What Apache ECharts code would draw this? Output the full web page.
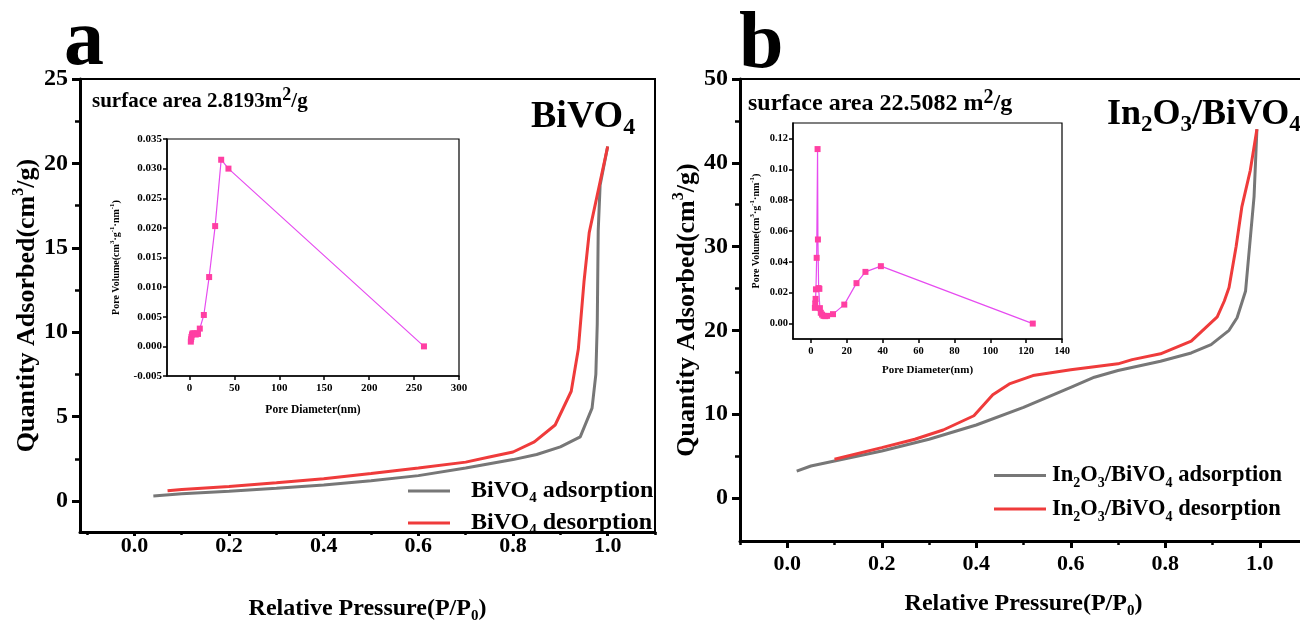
<!DOCTYPE html>
<html><head><meta charset="utf-8">
<script src="https://cdn.jsdelivr.net/npm/echarts@6/dist/echarts.min.js"></script>
<style>html,body{margin:0;padding:0;background:#fff}#c{width:1300px;height:623px}</style>
</head><body><div id="c"></div>
<script>
const F = 'Liberation Serif';
// ---- Panel a: BiVO4 N2 isotherm (P/P0, cm3/g)
const bivoAds = [[0.04,0.3],[0.1,0.42],[0.2,0.58],[0.3,0.75],[0.4,0.95],[0.5,1.2],[0.6,1.5],[0.7,1.95],[0.75,2.2],[0.8,2.45],[0.85,2.75],[0.9,3.2],[0.942,3.8],[0.967,5.5],[0.975,7.5],[0.978,10.5],[0.98,16],[0.984,18.7],[1.0,21]];
const bivoDes = [[0.07,0.6],[0.1,0.68],[0.2,0.85],[0.3,1.08],[0.4,1.32],[0.5,1.62],[0.6,1.95],[0.7,2.3],[0.75,2.6],[0.8,2.9],[0.845,3.5],[0.889,4.5],[0.923,6.5],[0.938,9],[0.95,13],[0.961,15.9],[1.0,21]];
// ---- Panel a inset: pore size distribution (nm, cm3 g-1 nm-1)
const bivoPore = [[1.5,0.0008],[1.8,0.0012],[2.2,0.0016],[2.8,0.0020],[3.5,0.0022],[4.5,0.0021],[5.5,0.0022],[7,0.0020],[8.5,0.0022],[9.5,0.0021],[11.5,0.0030],[16,0.0053],[21.9,0.0117],[28.6,0.0203],[35.3,0.0315],[43.4,0.0300],[261,0.0]];
// ---- Panel b: In2O3/BiVO4 isotherm
const inAds = [[0.02,3.2],[0.05,3.8],[0.1,4.4],[0.2,5.6],[0.3,7.0],[0.4,8.7],[0.5,10.8],[0.6,13.2],[0.65,14.4],[0.7,15.2],[0.79,16.3],[0.855,17.3],[0.897,18.3],[0.935,20],[0.952,21.5],[0.97,24.7],[0.988,36],[0.994,44]];
const inDes = [[0.1,4.6],[0.2,6.0],[0.27,7.0],[0.33,8.1],[0.395,9.8],[0.435,12.3],[0.47,13.6],[0.52,14.6],[0.6,15.3],[0.7,16],[0.73,16.5],[0.79,17.2],[0.855,18.7],[0.91,21.6],[0.925,23.5],[0.935,25.1],[0.95,30],[0.962,34.7],[0.98,39.1],[0.994,44]];
// ---- Panel b inset
const inPore = [[2.2,0.0102],[2.4,0.013],[2.6,0.016],[2.8,0.0222],[3.2,0.0426],[3.7,0.1131],[3.9,0.0545],[4.3,0.023],[4.7,0.0225],[5.0,0.010],[5.5,0.007],[6.2,0.0058],[7,0.005],[8,0.0048],[9,0.005],[12.3,0.0061],[18.6,0.0123],[25.4,0.0262],[30.4,0.0335],[39,0.0372],[123.7,0.0]];
// ---- tick labels
const mainXTicks = [0,0.2,0.4,0.6,0.8,1.0];
const mainXMinor = [-0.1,0.1,0.3,0.5,0.7,0.9,1.1];
const aYTicks = [0,5,10,15,20,25];
const aYMinor = [2.5,7.5,12.5,17.5,22.5];
const bYTicks = [0,10,20,30,40,50];
const bYMinor = [5,15,25,35,45];
const aInsetXTicks = [0,50,100,150,200,250,300];
const bInsetXTicks = [0,20,40,60,80,100,120,140];
const bInsetYTicks = [0,0.02,0.04,0.06,0.08,0.10,0.12];
const names = {aAds:'BiVO4 adsorption', aDes:'BiVO4 desorption', bAds:'In2O3/BiVO4 adsorption', bDes:'In2O3/BiVO4 desorption'};

const GRAY = '#777777', RED = '#ef3b3b', MAG = '#e64bf0', PINK = '#ff3fa3';
const blk = '#000';
const RA = {xmin:-0.115, xmax:1.1, ymin:-1.84, ymax:25};
const RB = {xmin:-0.1, xmax:1.1, ymin:-5.15, ymax:50};
const G = [
  {left:80, top:79, width:575, height:453},
  {left:167, top:139, width:292, height:237},
  {left:740, top:79, width:567, height:462},
  {left:793, top:123, width:269, height:216}
];
function mainX(grid, r, margin, tickLen, nameGap){
  return {gridIndex:grid, type:'value', min:r.xmin, max:r.xmax,
    axisLine:{onZero:false, lineStyle:{color:blk, width:3}},
    axisTick:{customValues:mainXTicks, length:tickLen, lineStyle:{color:blk, width:3}},
    axisLabel:{customValues:mainXTicks, formatter:v=>v.toFixed(1), color:blk, fontFamily:F, fontWeight:'bold', fontSize:22, margin:margin},
    splitLine:{show:false},
    name:'{a|Relative Pressure(P/P}{s|0}{a|)}', nameLocation:'middle', nameGap:nameGap,
    nameTextStyle:{rich:{a:{fontFamily:F, fontWeight:'bold', fontSize:24, color:blk, lineHeight:30}, s:{fontFamily:F, fontWeight:'bold', fontSize:15, color:blk, verticalAlign:'bottom', lineHeight:30}}}
  };
}
function minorX(grid, r, ticks, len){
  return {gridIndex:grid, type:'value', min:r.xmin, max:r.xmax,
    axisLine:{show:false, onZero:false}, axisLabel:{show:false}, splitLine:{show:false},
    axisTick:{customValues:ticks, length:len, lineStyle:{color:blk, width:2.5}}};
}
function minorY(grid, r, ticks){
  return {gridIndex:grid, type:'value', min:r.ymin, max:r.ymax,
    axisLine:{show:false, onZero:false}, axisLabel:{show:false}, splitLine:{show:false},
    axisTick:{customValues:ticks, length:5, lineStyle:{color:blk, width:2.5}}};
}
function mainY(grid, r, ticks, nameGap){
  return {gridIndex:grid, type:'value', min:r.ymin, max:r.ymax,
    axisLine:{onZero:false, lineStyle:{color:blk, width:3}},
    axisTick:{customValues:ticks, length:8, lineStyle:{color:blk, width:3}},
    axisLabel:{customValues:ticks, color:blk, fontFamily:F, fontWeight:'bold', fontSize:24, margin:12},
    splitLine:{show:false},
    name:'{a|Quantity Adsorbed(cm}{s|3}{a|/g)}', nameLocation:'middle', nameGap:nameGap,
    nameTextStyle:{rich:{a:{fontFamily:F, fontWeight:'bold', fontSize:26, color:blk, lineHeight:32}, s:{fontFamily:F, fontWeight:'bold', fontSize:16, color:blk, verticalAlign:'top', lineHeight:32}}}
  };
}
function insetX(grid, min, max, ticks, fs, nameGap){
  return {gridIndex:grid, type:'value', min:min, max:max,
    axisLine:{onZero:false, lineStyle:{color:blk, width:1.5}},
    axisTick:{customValues:ticks, length:4, lineStyle:{color:blk, width:1.5}},
    axisLabel:{customValues:ticks, color:blk, fontFamily:F, fontWeight:'bold', fontSize:fs, margin:7},
    splitLine:{show:false},
    name:'Pore Diameter(nm)', nameLocation:'middle', nameGap:nameGap,
    nameTextStyle:{fontFamily:F, fontWeight:'bold', fontSize:fs+0.5, color:blk}
  };
}
function insetY(grid, min, max, ticks, interval, fmt, fs, nameGap){
  const o = {gridIndex:grid, type:'value', min:min, max:max,
    axisLine:{onZero:false, lineStyle:{color:blk, width:1.5}},
    axisTick:{length:4, lineStyle:{color:blk, width:1.5}},
    axisLabel:{formatter:fmt, color:blk, fontFamily:F, fontWeight:'bold', fontSize:fs, margin:5},
    splitLine:{show:false},
    name:'{a|Pore Volume(cm}{s|3}{a|·g}{s|-1}{a|·nm}{s|-1}{a|)}', nameLocation:'middle', nameGap:nameGap,
    nameTextStyle:{rich:{a:{fontFamily:F, fontWeight:'bold', fontSize:10, color:blk, lineHeight:14}, s:{fontFamily:F, fontWeight:'bold', fontSize:7, color:blk, verticalAlign:'top', lineHeight:14}}}
  };
  if (ticks) { o.axisTick.customValues = ticks; o.axisLabel.customValues = ticks; }
  else { o.interval = interval; }
  return o;
}
function legRich(fs, gap){
  return {g:{width:gap}, a:{fontFamily:F, fontWeight:'bold', fontSize:fs, color:blk, lineHeight:30}, s:{fontFamily:F, fontWeight:'bold', fontSize:Math.round(fs*0.62), color:blk, verticalAlign:'bottom', lineHeight:30}};
}
function richChem(s){
  return s.replace(/([A-Za-z\)])(\d)/g, '$1\u0001$2\u0002').split(/(\u0001\d\u0002)/).filter(t=>t).map(t=> t[0]==='\u0001' ? '{s|'+t.slice(1,-1)+'}' : '{a|'+t+'}').join('');
}
const lineS = (name, data, color, xi, yi) => ({name:name, type:'line', xAxisIndex:xi, yAxisIndex:yi, data:data, symbol:'none', smooth:false, lineStyle:{color:color, width:3}, itemStyle:{color:color}});
const poreS = (data, xi, yi) => ({type:'line', xAxisIndex:xi, yAxisIndex:yi, data:data, symbol:'rect', symbolSize:6, lineStyle:{color:MAG, width:1.2}, itemStyle:{color:PINK}, z:5});
const gridOf = (g, extra) => Object.assign({outerBoundsMode:'none', containLabel:false}, extra, g);

const chart = echarts.init(document.getElementById('c'), null, {renderer:'canvas'});
chart.setOption({
  backgroundColor:'#fff',
  animation:false,
  grid:[
    gridOf(G[0], {show:true, borderColor:blk, borderWidth:2, backgroundColor:'transparent'}),
    gridOf(G[1], {show:true, borderColor:blk, borderWidth:1.2, backgroundColor:'#fff'}),
    gridOf(G[2], {show:true, borderColor:blk, borderWidth:2, backgroundColor:'transparent'}),
    gridOf(G[3], {show:true, borderColor:blk, borderWidth:1.2, backgroundColor:'#fff'}),
    gridOf(G[0], {show:false}),
    gridOf(G[2], {show:false})
  ],
  xAxis:[
    mainX(0, RA, 3, 4, 62),
    insetX(1, -25, 300, aInsetXTicks, 11, 28),
    mainX(2, RB, 12, 7, 48),
    insetX(3, -10, 140, bInsetXTicks, 10.5, 26),
    minorX(4, RA, mainXMinor, 3),
    minorX(5, RB, mainXMinor, 4)
  ],
  yAxis:[
    mainY(0, RA, aYTicks, 34),
    insetY(1, -0.005, 0.035, null, 0.005, v=>v.toFixed(3), 11, 44),
    mainY(2, RB, bYTicks, 33),
    insetY(3, -0.01, 0.13, bInsetYTicks, null, v=>v.toFixed(2), 10.5, 30),
    minorY(4, RA, aYMinor),
    minorY(5, RB, bYMinor)
  ],
  legend:[
    {left:403, top:474, orient:'vertical', itemGap:5, itemWidth:42, itemHeight:3, icon:'rect', data:[names.aAds, names.aDes], formatter:n=>'{g|}'+richChem(n), textStyle:{rich:legRich(24, 16)}},
    {left:989, top:459, orient:'vertical', itemGap:7, itemWidth:52, itemHeight:3, icon:'rect', data:[names.bAds, names.bDes], formatter:n=>'{g|}'+richChem(n), textStyle:{rich:legRich(22.5, 1)}}
  ],
  series:[
    lineS(names.aAds, bivoAds, GRAY, 0, 0),
    lineS(names.aDes, bivoDes, RED, 0, 0),
    poreS(bivoPore, 1, 1),
    lineS(names.bAds, inAds, GRAY, 2, 2),
    lineS(names.bDes, inDes, RED, 2, 2),
    poreS(inPore, 3, 3)
  ],
  graphic:[
    {type:'text', left:64, top:3, style:{text:'a', font:'bold 80px "Liberation Serif"', fill:blk}},
    {type:'text', left:739, top:6, style:{text:'b', font:'bold 80px "Liberation Serif"', fill:blk}},
    {type:'text', left:92, top:86, style:{text:'{a|surface area 2.8193m}{p|2}{a|/g}', rich:{a:{fontFamily:F, fontWeight:'bold', fontSize:21, fill:blk, lineHeight:32}, p:{fontFamily:F, fontWeight:'bold', fontSize:18, fill:blk, verticalAlign:'top', lineHeight:32}}}},
    {type:'text', left:748, top:88, style:{text:'{a|surface area 22.5082 m}{p|2}{a|/g}', rich:{a:{fontFamily:F, fontWeight:'bold', fontSize:24, fill:blk, lineHeight:32}, p:{fontFamily:F, fontWeight:'bold', fontSize:20, fill:blk, verticalAlign:'top', lineHeight:32}}}},
    {type:'text', left:531, top:98, style:{text:richChem('BiVO4'), rich:{a:{fontFamily:F, fontWeight:'bold', fontSize:38, fill:blk, lineHeight:46}, s:{fontFamily:F, fontWeight:'bold', fontSize:24, fill:blk, verticalAlign:'bottom', lineHeight:46}}}},
    {type:'text', left:1107, top:97, style:{text:richChem('In2O3/BiVO4'), rich:{a:{fontFamily:F, fontWeight:'bold', fontSize:36, fill:blk, lineHeight:44}, s:{fontFamily:F, fontWeight:'bold', fontSize:23, fill:blk, verticalAlign:'bottom', lineHeight:44}}}}
  ]
});
</script></body></html>
